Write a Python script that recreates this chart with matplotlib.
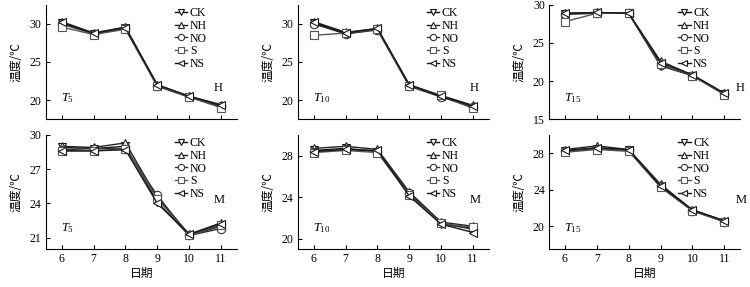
import matplotlib.pyplot as plt

plt.rcParams['font.family'] = ['Liberation Serif', 'Noto Sans CJK SC']
plt.rcParams['mathtext.fontset'] = 'custom'
plt.rcParams['mathtext.rm'] = 'Liberation Serif'
plt.rcParams['mathtext.it'] = 'Liberation Serif:italic'
plt.rcParams['font.size'] = 8.5

days = [6, 7, 8, 9, 10, 11]
names = ['CK', 'NH', 'NO', 'S', 'NS']

# H, T5
h_t5 = {
    'CK': [30.1, 28.7, 29.4, 21.9, 20.4, 19.1],
    'NH': [30.3, 28.8, 29.6, 22.0, 20.5, 19.4],
    'NO': [30.0, 28.7, 29.4, 21.8, 20.4, 19.2],
    'S':  [29.6, 28.6, 29.3, 21.9, 20.4, 19.0],
    'NS': [30.2, 28.8, 29.5, 22.0, 20.5, 19.3],
}
# H, T10
h_t10 = {
    'CK': [30.1, 28.7, 29.3, 21.9, 20.5, 19.0],
    'NH': [30.3, 28.9, 29.4, 22.0, 20.6, 19.3],
    'NO': [30.0, 28.7, 29.2, 21.8, 20.4, 19.1],
    'S':  [28.5, 28.8, 29.3, 21.9, 20.6, 18.9],
    'NS': [30.2, 28.8, 29.4, 22.0, 20.5, 19.2],
}
# H, T15
h_t15 = {
    'CK': [28.8, 28.9, 28.9, 22.0, 20.7, 18.3],
    'NH': [28.9, 29.0, 28.9, 22.6, 20.8, 18.4],
    'NO': [28.8, 28.9, 28.9, 22.1, 20.7, 18.3],
    'S':  [27.8, 28.9, 28.9, 22.2, 20.7, 18.2],
    'NS': [28.9, 29.0, 28.9, 22.4, 20.8, 18.4],
}
# M, T5
m_t5 = {
    'CK': [28.9, 28.8, 29.0, 24.1, 21.2, 22.0],
    'NH': [29.0, 28.9, 29.3, 24.5, 21.3, 22.3],
    'NO': [28.7, 28.8, 28.8, 24.7, 21.2, 21.8],
    'S':  [28.6, 28.6, 28.8, 24.4, 21.2, 22.1],
    'NS': [28.6, 28.6, 28.7, 24.0, 21.3, 22.2],
}
# M, T10
m_t10 = {
    'CK': [28.5, 28.7, 28.4, 24.3, 21.4, 21.0],
    'NH': [28.7, 28.9, 28.6, 24.5, 21.6, 21.2],
    'NO': [28.4, 28.6, 28.4, 24.4, 21.5, 20.9],
    'S':  [28.3, 28.5, 28.3, 24.2, 21.5, 21.1],
    'NS': [28.4, 28.6, 28.5, 24.1, 21.4, 20.6],
}
# M, T15
m_t15 = {
    'CK': [28.2, 28.5, 28.3, 24.3, 21.7, 20.5],
    'NH': [28.4, 28.8, 28.4, 24.6, 21.8, 20.6],
    'NO': [28.2, 28.5, 28.3, 24.4, 21.7, 20.5],
    'S':  [28.1, 28.4, 28.2, 24.3, 21.7, 20.5],
    'NS': [28.3, 28.6, 28.4, 24.4, 21.8, 20.6],
}

markers = {'CK': 'v', 'NH': '^', 'NO': 'o', 'S': 's', 'NS': '<'}
colors = {'CK': '#111111', 'NH': '#222222', 'NO': '#333333', 'S': '#555555', 'NS': '#1a1a1a'}

panels = [
    (h_t5, '$T_5$', 'H', (17.5, 32.5), [20, 25, 30]),
    (h_t10, '$T_{10}$', 'H', (17.5, 32.5), [20, 25, 30]),
    (h_t15, '$T_{15}$', 'H', (15, 30), [15, 20, 25, 30]),
    (m_t5, '$T_5$', 'M', (20, 30), [21, 24, 27, 30]),
    (m_t10, '$T_{10}$', 'M', (19, 30), [20, 24, 28]),
    (m_t15, '$T_{15}$', 'M', (17.5, 30), [20, 24, 28]),
]

lefts = [0.061, 0.397, 0.732]
width = 0.255
bottoms = [0.585, 0.132]
heights = [0.398, 0.398]
# H/M label positions (axes coords)
hm_x = [0.88, 0.90, 0.975]

fig = plt.figure(figsize=(7.5, 2.87), dpi=100)

for i, (data, tlab, hm, ylim, yt) in enumerate(panels):
    row, col = divmod(i, 3)
    ax = fig.add_axes([lefts[col], bottoms[row], width, heights[row]])
    for n in names:
        ax.plot(days, data[n], marker=markers[n], color=colors[n], lw=1.0,
                ms=6, mfc='white', mew=0.8, label=n)
    ax.set_xlim(5.5, 11.5)
    ax.set_ylim(*ylim)
    ax.set_yticks(yt)
    ax.set_xticks(days)
    ax.spines['top'].set_visible(False)
    ax.spines['right'].set_visible(False)
    ax.tick_params(direction='in', length=3, width=0.8, pad=3)
    if row == 0:
        ax.set_xticklabels([])
    else:
        ax.set_xlabel('日期', family=['Noto Sans CJK SC'], labelpad=1)
    ax.set_ylabel('温度/℃', family=['Noto Sans CJK SC', 'DejaVu Sans'], labelpad=5)
    ax.text(0.08, 0.16, tlab, transform=ax.transAxes, fontsize=9)
    ax.text(hm_x[col], 0.25 if row == 0 else 0.40, hm, transform=ax.transAxes, fontsize=9)
    ax.legend(loc='upper left', bbox_to_anchor=(0.63, 1.05), frameon=False,
              handlelength=1.1, handletextpad=0.2, labelspacing=0.05,
              borderpad=0.2, fontsize=8.5, markerscale=0.75)

fig.savefig('out.png', dpi=100)
